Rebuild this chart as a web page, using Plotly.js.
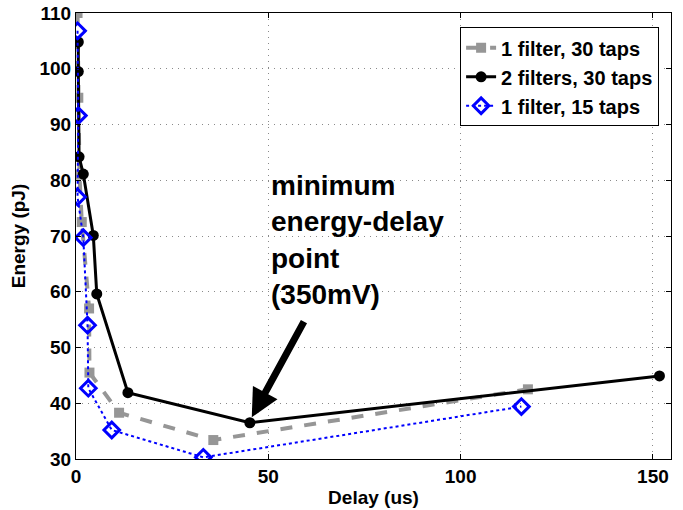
<!DOCTYPE html>
<html>
<head>
<meta charset="utf-8">
<script src="https://cdn.plot.ly/plotly-3.0.1.min.js"></script>
<style>html,body{margin:0;padding:0;background:#fff;}#chart{width:683px;height:510px;}</style>
</head>
<body>
<div id="chart"></div>
<script>
// Series: 1 filter, 30 taps
const delay1f30 = [0.4, 0.6, 0.9, 1.5, 3.4, 3.5, 11.2, 35.7, 117.5];
const energy1f30 = [110, 94.8, 81, 72.5, 57, 45.5, 38.3, 33.4, 42.5];
// Series: 2 filters, 30 taps
const delay2f30 = [0.6, 0.6, 0.8, 1.9, 4.5, 5.4, 13.5, 45.2, 151.7];
const energy2f30 = [104.8, 99.5, 84.2, 81.1, 70.1, 59.6, 41.9, 36.5, 44.9];
// Series: 1 filter, 15 taps
const delay1f15 = [0.4, 0.6, 0.4, 1.9, 3.0, 3.2, 9.3, 33.1, 115.8];
const energy1f15 = [106.8, 91.6, 77, 69.7, 54, 42.7, 35.2, 30.3, 39.4];

const seriesNames = ['1 filter, 30 taps', '2 filters, 30 taps', '1 filter, 15 taps'];
const xTicks = [0, 50, 100, 150];
const yTicks = [30, 40, 50, 60, 70, 80, 90, 100, 110];
const annotationText = 'minimum<br>energy-delay<br>point<br>(350mV)';
const minPoint = {x: 45.7, y: 37.5};

const FONT = 'Liberation Sans, Arial, Helvetica, sans-serif';

const traces = [
  {x: delay1f30, y: energy1f30, name: seriesNames[0], type: 'scatter', mode: 'lines+markers',
   line: {color: 'rgb(150,150,150)', width: 4, dash: 'dash'},
   marker: {symbol: 'square', size: 10, color: 'rgb(150,150,150)'}},
  {x: delay2f30, y: energy2f30, name: seriesNames[1], type: 'scatter', mode: 'lines+markers',
   line: {color: '#000', width: 3},
   marker: {symbol: 'circle', size: 11, color: '#000'}},
  {x: delay1f15, y: energy1f15, name: seriesNames[2], type: 'scatter', mode: 'lines+markers',
   line: {color: '#0000ff', width: 2, dash: 'dot'},
   marker: {symbol: 'diamond-open', size: 12, color: '#0000ff', line: {width: 3, color: '#0000ff'}}}
];

const axisCommon = {
  showline: true, linecolor: '#000', linewidth: 1, mirror: 'ticks',
  ticks: 'inside', ticklen: 5, tickcolor: '#000',
  showgrid: true, gridcolor: '#8a8a8a', gridwidth: 1, griddash: '1px,5px',
  zeroline: false,
  tickfont: {family: FONT, size: 19, color: '#000', weight: 'bold'}
};

const layout = {
  width: 683, height: 510,
  margin: {l: 76, r: 12, t: 13, b: 51},
  paper_bgcolor: '#fff', plot_bgcolor: '#fff',
  showlegend: true,
  legend: {
    x: 0.98, xanchor: 'right', y: 0.968, yanchor: 'top',
    bgcolor: '#fff', bordercolor: '#000', borderwidth: 1,
    font: {family: FONT, size: 20, color: '#000', weight: 'bold'},
    tracegroupgap: 0, itemwidth: 30
  },
  xaxis: Object.assign({}, axisCommon, {
    range: [0, 154.7], tickvals: xTicks, ticktext: xTicks.map(String),
    title: {text: 'Delay (us)', font: {family: FONT, size: 19, color: '#000', weight: 'bold'}, standoff: 4}
  }),
  yaxis: Object.assign({}, axisCommon, {
    range: [30, 110], tickvals: yTicks, ticktext: yTicks.map(String),
    title: {text: 'Energy (pJ)', font: {family: FONT, size: 19, color: '#000', weight: 'bold'}, standoff: 8}
  }),
  annotations: [
    {x: minPoint.x, y: minPoint.y, xref: 'x', yref: 'y', text: '', showarrow: true,
     arrowhead: 2, arrowsize: 0.8, arrowwidth: 7, arrowcolor: '#000', ax: 53, ay: -97,
     standoff: 0},
    {x: 50.3, y: 82.2, xref: 'x', yref: 'y', xanchor: 'left', yanchor: 'top',
     text: annotationText, showarrow: false, align: 'left',
     font: {family: FONT, size: 28, color: '#000', weight: 'bold'}}
  ]
};

Plotly.newPlot('chart', traces, layout, {displayModeBar: false, staticPlot: true});
</script>
</body>
</html>
